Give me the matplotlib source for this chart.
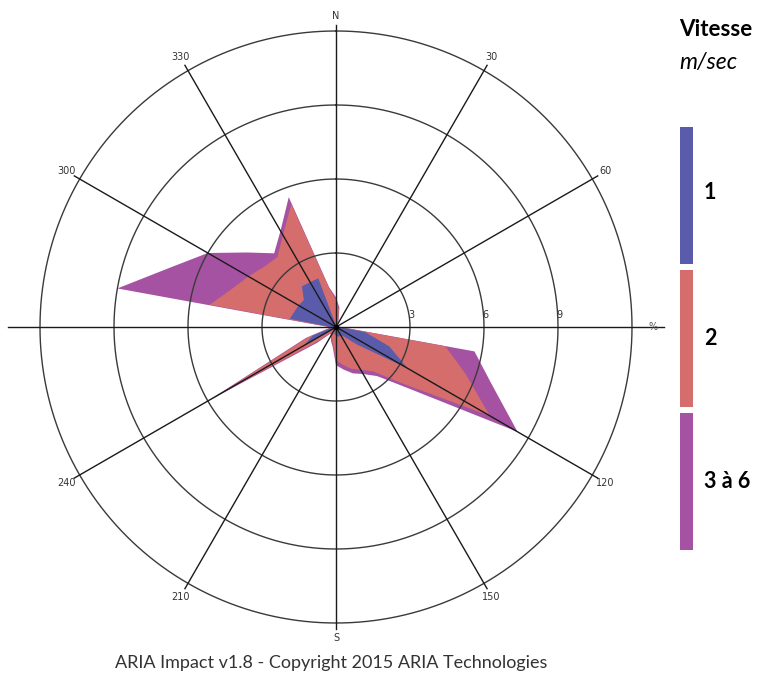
import numpy as np
import matplotlib
matplotlib.use('Agg')
import matplotlib.pyplot as plt

# ---------------- data ----------------
directions = list(range(0, 360, 10))  # degrees from north, clockwise
# frequency (%) per speed class and direction
speed_1 = [0.2, 0.15, 0.1, 0.05, 0.05, 0.05, 0.05, 0.05, 0.05, 0.1,
           1.2, 2.3, 3.35, 1.1, 0.5, 0.4, 0.4, 0.4, 0.35, 0.3,
           0.2, 0.15, 0.15, 0.2, 1.5, 1.0, 0.2, 0.2, 1.9, 1.8,
           1.75, 1.7, 2.15, 2.1, 2.1, 0.1]
speed_2 = [0.9, 0.55, 0.15, 0.05, 0.05, 0.03, 0.03, 0.03, 0.05, 0.05,
           3.3, 3.3, 3.85, 2.5, 1.85, 1.6, 1.4, 1.15, 1.0, 0.4,
           0.3, 0.2, 0.15, 0.6, 4.1, 0.2, 0.05, 0.05, 3.3, 2.7,
           2.35, 2.1, 1.55, 2.2, 3.2, 1.5]
speed_3_6 = [0.1, 0.1, 0.05, 0.02, 0.02, 0.02, 0.02, 0.02, 0.02, 0.05,
             1.2, 1.1, 1.3, 0.3, 0.25, 0.2, 0.2, 0.2, 0.2, 0.1,
             0.1, 0.05, 0.05, 0.2, 0.4, 0.1, 0.05, 0.05, 3.8, 2.6,
             1.9, 0.9, 0.2, 0.2, 0.3, 0.05]
class_labels = ['1', '2', '3 à 6']
class_colors = ['#5b5bab', '#d46d6b', '#a652a3']
ring_values = [3, 6, 9, 12]
ring_labels = ['3', '6', '9']
angle_ticks = [0, 30, 60, 120, 150, 180, 210, 240, 300, 330]
angle_labels = ['N', '30', '60', '120', '150', 'S', '210', '240', '300', '330']

# ---------------- figure ----------------
W, H = 758, 677
fig = plt.figure(figsize=(W / 100, H / 100), dpi=100)
cx, cy = 336, 327          # centre in pixels (from top)
px_per_pct = 296 / 12.0
rmax = 13.4
R = rmax * px_per_pct
ax = fig.add_axes([(cx - R) / W, (H - cy - R) / H, 2 * R / W, 2 * R / H],
                  projection='polar')
ax.set_theta_zero_location('N')
ax.set_theta_direction(-1)
ax.set_ylim(0, rmax)
ax.grid(False)
ax.set_xticks([])
ax.set_yticks([])
ax.spines['polar'].set_visible(False)
ax.patch.set_alpha(0)

theta = np.deg2rad(np.array(directions + [directions[0]]))
cum = np.cumsum(np.array([speed_1, speed_2, speed_3_6]), axis=0)
for i in [2, 1, 0]:
    vals = list(cum[i]) + [cum[i][0]]
    ax.fill(theta, vals, color=class_colors[i], lw=0, zorder=2)

# rings
tt = np.linspace(0, 2 * np.pi, 721)
for rv in ring_values:
    ax.plot(tt, np.full_like(tt, rv), color='#3a3a3a', lw=1.0, zorder=3)

# radial lines
for a in range(0, 360, 30):
    ext = 13.3 if a in (90, 270) else 12.25
    ax.plot([0, np.deg2rad(a)], [0, ext], color='#1a1a1a', lw=1.0, zorder=4)
ax.plot([0], [0], 'o', color='black', ms=3, zorder=5)

# angle labels
for a, lab in zip(angle_ticks, angle_labels):
    ax.text(np.deg2rad(a), 12.62, lab, ha='center', va='center',
            fontsize=7, color='#333333', zorder=6)
ax.text(np.deg2rad(90), 12.85, '%', ha='center', va='center',
        fontsize=7, color='#555555', zorder=6)
for rv, lab in zip(ring_values[:3], ring_labels):
    ax.annotate(lab, xy=(np.deg2rad(90), rv), xytext=(-1, 9),
                textcoords='offset points', ha='left', va='center',
                fontsize=7, color='#333333', zorder=6)

# footer
fig.text(331 / W, 1 - 663 / H,
         'ARIA Impact v1.8 - Copyright 2015 ARIA Technologies',
         ha='center', va='center', fontsize=13, color='#333333',
         family='Lato')

# legend
fig.text(679 / W, 1 - 30 / H, 'Vitesse', ha='left', va='center',
         fontsize=16, fontweight='bold', family='Lato', color='black')
fig.text(679 / W, 1 - 62 / H, 'm/sec', ha='left', va='center',
         fontsize=16.5, fontstyle='italic', family='Lato', color='black')
lax = fig.add_axes([680 / W, 1 - 553 / H, 13 / W, (553 - 124) / H])
lax.set_xlim(0, 1)
lax.set_ylim(0, 3)
ys = [2, 1, 0]
lax.bar([0.5] * 3, [0.955] * 3, bottom=[y + 0.0225 for y in ys], width=1.0,
        color=class_colors, lw=0)
lax.axis('off')
label_y = [193, 338, 482]
for lab, y in zip(class_labels, label_y):
    fig.text(704 / W, 1 - y / H, lab, ha='left', va='center', fontsize=15.5,
             fontweight='bold', family='Lato', color='black')

fig.savefig('out.png', dpi=100)
